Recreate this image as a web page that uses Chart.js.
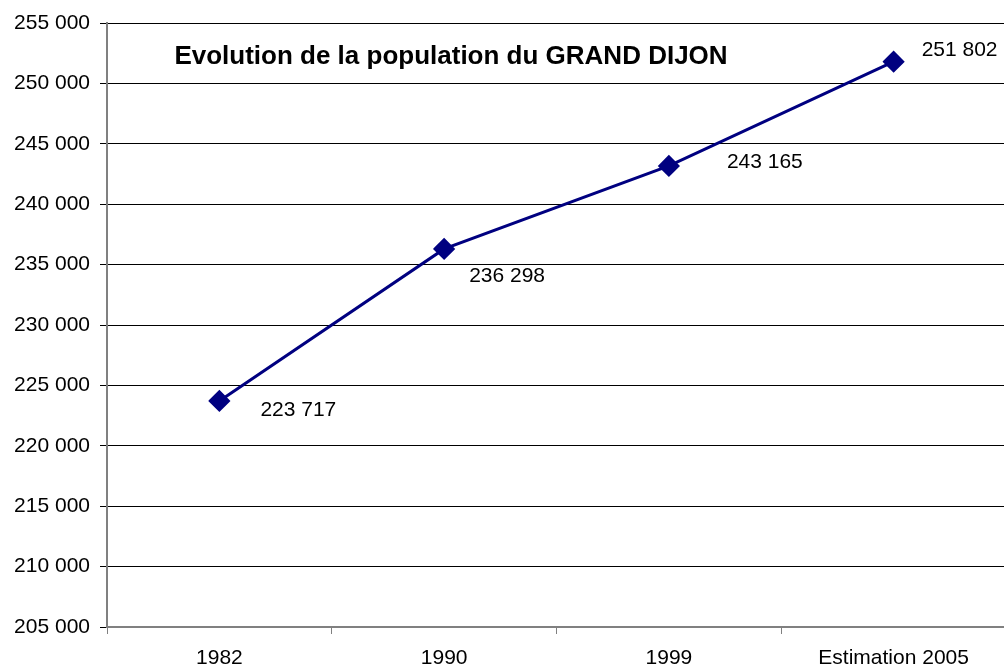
<!DOCTYPE html>
<html>
<head>
<meta charset="utf-8">
<script src="https://cdn.jsdelivr.net/npm/chart.js@4/dist/chart.umd.min.js"></script>
<style>
  html, body { margin: 0; padding: 0; background: #fff; overflow: hidden; }
  #wrap { width: 1004px; height: 667px; overflow: hidden; }
  #graficoPopulation { display: block; }
</style>
</head>
<body>
<div id="wrap"><canvas id="graficoPopulation" width="1018" height="667"></canvas></div>
<script>
// données
const titre = 'Evolution de la population du GRAND DIJON';
const annees = ['1982', '1990', '1999', 'Estimation 2005'];
const population = [223717, 236298, 243165, 251802];
const yMin = 205000;
const yMax = 255000;
const yPas = 5000;

function formatNombre(v) {
    return String(Math.round(v)).replace(/\B(?=(\d{3})+(?!\d))/g, ' ');
}

// étiquettes de valeur à droite des points
const etiquettesPlugin = {
    id: 'etiquettes',
    afterDatasetsDraw(chart) {
        const ctx = chart.ctx;
        const meta = chart.getDatasetMeta(0);
        const decalages = [[41, 9], [25, 27], [58, -4], [28, -11]];
        ctx.save();
        ctx.font = '21px "Liberation Sans", Arial, sans-serif';
        ctx.fillStyle = '#000';
        ctx.textAlign = 'left';
        ctx.textBaseline = 'middle';
        meta.data.forEach((pt, i) => {
            const d = decalages[i];
            ctx.fillText(formatNombre(population[i]), pt.x + d[0], pt.y + d[1]);
        });
        // titre dans la zone du graphique
        ctx.font = 'bold 26px "Liberation Sans", Arial, sans-serif';
        ctx.textAlign = 'center';
        ctx.fillText(titre, 451, 57);
        ctx.restore();
    }
};

document.addEventListener('DOMContentLoaded', function() {
    const ctx = document.getElementById('graficoPopulation').getContext('2d');
    new Chart(ctx, {
        type: 'line',
        data: {
            labels: annees,
            datasets: [{
                data: population,
                borderColor: '#000080',
                backgroundColor: '#000080',
                borderWidth: 3,
                pointStyle: 'rectRot',
                pointRadius: 9,
                pointHoverRadius: 9,
                tension: 0
            }]
        },
        options: {
            responsive: false,
            animation: false,
            layout: { padding: { top: 23, right: 0, left: 0, bottom: 0 } },
            plugins: {
                legend: { display: false },
                tooltip: { enabled: false },
                title: { display: false }
            },
            scales: {
                x: {
                    offset: true,
                    grid: {
                        offset: true,
                        drawOnChartArea: false,
                        drawTicks: true,
                        tickLength: 7,
                        tickColor: '#808080'
                    },
                    border: { color: '#808080', width: 2 },
                    ticks: {
                        color: '#000',
                        padding: 12,
                        maxRotation: 0,
                        font: { family: '"Liberation Sans", Arial, sans-serif', size: 21 }
                    },
                    afterFit(scale) { scale.height = 40; }
                },
                y: {
                    min: yMin,
                    max: yMax,
                    grid: {
                        color: '#000',
                        lineWidth: 1,
                        tickLength: 7,
                        tickColor: '#000'
                    },
                    border: { color: '#808080', width: 2 },
                    ticks: {
                        stepSize: yPas,
                        color: '#000',
                        padding: 10,
                        font: { family: '"Liberation Sans", Arial, sans-serif', size: 21 },
                        callback: v => formatNombre(v)
                    },
                    afterFit(scale) { scale.width = 107; }
                }
            }
        },
        plugins: [etiquettesPlugin]
    });
});
</script>
</body>
</html>
